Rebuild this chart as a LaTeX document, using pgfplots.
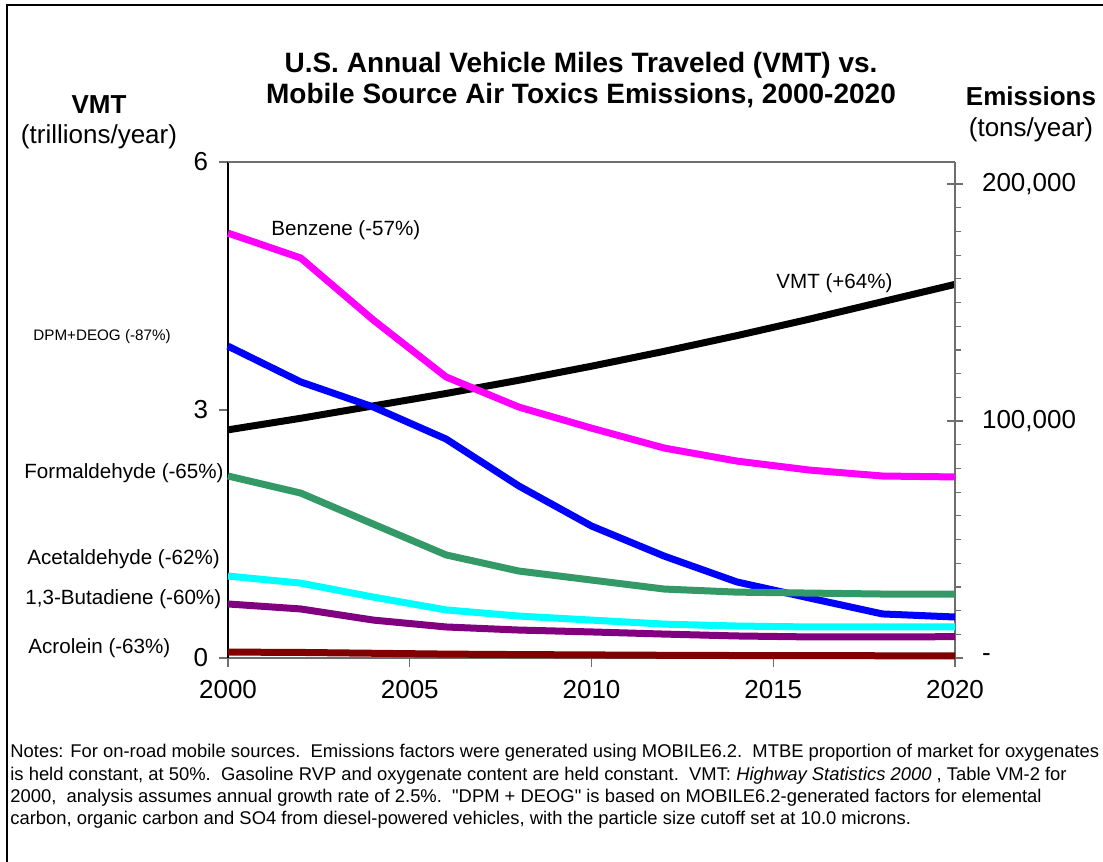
\documentclass[border=0pt]{standalone}
\usepackage{pgfplots}
\pgfplotsset{compat=1.18}
\usepackage{fontspec}
\setmainfont{Liberation Sans}
\newfontfamily\qf{Liberation Sans}
\definecolor{cMag}{RGB}{255,0,255}
\definecolor{cBlue}{RGB}{0,0,255}
\definecolor{cGreen}{RGB}{51,153,102}
\definecolor{cCyan}{RGB}{0,255,255}
\definecolor{cPurple}{RGB}{128,0,128}
\definecolor{cDRed}{RGB}{128,0,0}
\definecolor{cAxGray}{RGB}{110,110,110}
\newcommand{\fs}[1]{\fontsize{#1bp}{1.2\dimexpr#1bp\relax}\selectfont}
\begin{document}
\begin{tikzpicture}
\begin{scope}[x=0.5bp,y=-0.5bp,yshift=431bp]
\useasboundingbox (0,0) rectangle (1103,862);
\draw[line width=1.2bp] (7,862) -- (7,5) -- (1103,5);
\node[align=center,font=\fs{14}\bfseries] at (581,80) {U.S. Annual Vehicle Miles Traveled (VMT) vs.\\[-1.2bp]Mobile Source Air Toxics Emissions, 2000-2020};
\node[font=\fs{13}\bfseries] at (99,105) {VMT};
\node[font=\fs{13}] at (99,137) {(trillions/year)};
\node[font=\fs{13}\bfseries] at (1031,96) {Emissions};
\node[font=\fs{13}] at (1031,130) {(tons/year)};
\node[font=\fs{7.6},anchor=west,inner sep=0pt] at (33,337) {DPM+DEOG (-87\%)};
\node[font=\fs{10.3},anchor=west,inner sep=0pt] at (24,473) {Formaldehyde (-65\%)};
\node[font=\fs{10.3},anchor=west,inner sep=0pt] at (27,559) {Acetaldehyde (-62\%)};
\node[font=\fs{10.3},anchor=west,inner sep=0pt] at (25,599) {1,3-Butadiene (-60\%)};
\node[font=\fs{10.3},anchor=west,inner sep=0pt] at (28,648) {Acrolein (-63\%)};
\node[font=\fs{10.3},anchor=west,inner sep=0pt] at (271,230) {Benzene (-57\%)};
\node[font=\fs{10.3},anchor=west,inner sep=0pt] at (776,283) {VMT (+64\%)};
\node[font=\fontsize{9.2bp}{11.2bp}\selectfont,anchor=base west,align=left,inner sep=0pt] at (10,825) {%
Notes: For on-road mobile sources.\ \ Emissions factors were generated using MOBILE6.2.\ \ MTBE proportion of market for oxygenates\\
is held constant, at 50\%.\ \ Gasoline RVP and oxygenate content are held constant.\ \ VMT: \textit{Highway Statistics 2000} , Table VM-2 for\\
2000,\ \ analysis assumes annual growth rate of 2.5\%.\ \ {\qf "}DPM + DEOG{\qf "} is based on MOBILE6.2-generated factors for elemental\\
carbon, organic carbon and SO4 from diesel-powered vehicles, with the particle size cutoff set at 10.0 microns.};
\end{scope}

\begin{axis}[
  scale only axis, width=363.5bp, height=248bp,
  at={(114bp,102bp)}, anchor=south west,
  xmin=2000, xmax=2020, ymin=0, ymax=6,
  clip=false,
  axis x line*=bottom, axis y line*=left,
  x axis line style={-,draw=cAxGray,line width=0.8bp},
  y axis line style={-,draw=black,line width=0.6bp},
  tick align=outside, major tick length=4.5bp,
  tick style={draw=cAxGray,line width=0.6bp},
  xtick={2000,2005,2010,2015,2020},
  xticklabels={2000,2005,2010,2015,2020},
  ytick={0,3,6}, yticklabels={0,3,6},
  ticklabel style={font=\fs{13}},
  xticklabel style={yshift=-3bp},
  yticklabel style={xshift=-2bp},
]
\draw[cAxGray,line width=0.8bp] (rel axis cs:0,1) -- (rel axis cs:1,1);
\addplot[black,line width=3.5bp] coordinates {
(2000,2.76) (2002,2.90) (2004,3.05) (2006,3.20) (2008,3.36) (2010,3.53)
(2012,3.71) (2014,3.90) (2016,4.10) (2018,4.31) (2020,4.52)};
\end{axis}

\begin{axis}[
  scale only axis, width=363.5bp, height=248bp,
  at={(114bp,102bp)}, anchor=south west,
  xmin=2000, xmax=2020, ymin=0, ymax=209300,
  clip=false,
  axis x line=none, axis y line*=right,
  y axis line style={-,draw=cAxGray,line width=0.8bp},
  tick align=outside, major tick length=3bp,
  tick style={draw=cAxGray,line width=0.6bp},
  ytick={10000,20000,...,200000}, yticklabels={},
  extra y ticks={0,100000,200000},
  extra y tick labels={-,{100,000},{200,000}},
  extra y tick style={tick align=center, major tick length=8bp,
     yticklabel style={font=\fs{13}, xshift=6bp}},
  scaled y ticks=false,
]
\addplot[cMag,line width=3.5bp] coordinates {
(2000,179300) (2002,168800) (2004,142600) (2006,118600) (2008,105900) (2010,97000)
(2012,88600) (2014,83100) (2016,79300) (2018,76800) (2020,76400)};
\addplot[cBlue,line width=3.5bp] coordinates {
(2000,131600) (2002,116500) (2004,105900) (2006,92400) (2008,72600) (2010,55700)
(2012,43000) (2014,32100) (2016,25300) (2018,18600) (2020,17300)};
\addplot[cGreen,line width=3.5bp] coordinates {
(2000,76800) (2002,69600) (2004,56500) (2006,43500) (2008,36700) (2010,32900)
(2012,29100) (2014,27800) (2016,27400) (2018,27000) (2020,27000)};
\addplot[cCyan,line width=3.5bp] coordinates {
(2000,34600) (2002,31600) (2004,25700) (2006,20300) (2008,17700) (2010,16000)
(2012,14300) (2014,13500) (2016,13100) (2018,13100) (2020,13100)};
\addplot[cPurple,line width=3.5bp] coordinates {
(2000,22800) (2002,20700) (2004,16000) (2006,13100) (2008,11800) (2010,11000)
(2012,10100) (2014,9300) (2016,8900) (2018,8900) (2020,9000)};
\addplot[cDRed,line width=3.5bp] coordinates {
(2000,2500) (2002,2350) (2004,2000) (2006,1650) (2008,1450) (2010,1300)
(2012,1150) (2014,1050) (2016,1000) (2018,950) (2020,925)};
\end{axis}
\end{tikzpicture}
\end{document}
